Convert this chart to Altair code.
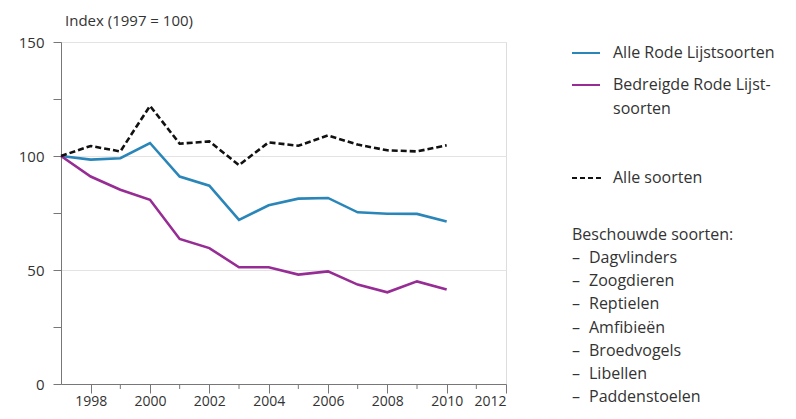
import altair as alt
import pandas as pd

years = list(range(1997, 2011))
alle_rode = [100, 98.4, 99, 105.7, 91, 87, 72, 78.4, 81.3, 81.6, 75.3, 74.7, 74.6, 71.3]
bedreigde = [100, 91, 85.2, 80.8, 63.6, 59.6, 51.2, 51.2, 48, 49.4, 43.6, 40.2, 45, 41.4]
alle_soorten = [100, 104.4, 102, 122, 105.4, 106.4, 96, 106, 104.5, 109, 105, 102.5, 102, 104.7]

series_names = ["Alle Rode Lijstsoorten", "Bedreigde Rode Lijstsoorten", "Alle soorten"]
series_colors = ["#2a86b8", "#962c94", "#111111"]
soorten = ["Dagvlinders", "Zoogdieren", "Reptielen", "Amfibieën", "Broedvogels", "Libellen", "Paddenstoelen"]
y_title = "Index (1997 = 100)"
legend_header = "Beschouwde soorten:"
major_years = [1998, 2000, 2002, 2004, 2006, 2008, 2010, 2012]
minor_years = [1999, 2001, 2003, 2005, 2007, 2009, 2011]

FONT = "Open Sans"
TXT = "#333333"
AXC = "#777777"

rows = []
for name, vals in zip(series_names, [alle_rode, bedreigde, alle_soorten]):
    for yr, v in zip(years, vals):
        rows.append({"jaar": yr, "index": v, "reeks": name})
df = pd.DataFrame(rows)

W, H = 445, 342

xenc = alt.X("jaar:Q",
             scale=alt.Scale(domain=[1997, 2012], nice=False, zero=False),
             axis=alt.Axis(values=major_years, title=None, grid=False, format="d",
                           tickSize=9, labelPadding=1, domainColor=AXC, tickColor=AXC,
                           labelColor=TXT, labelFont=FONT, labelFontSize=14))
yenc = alt.Y("index:Q",
             scale=alt.Scale(domain=[0, 150], nice=False),
             axis=alt.Axis(values=[0, 25, 50, 75, 100, 125, 150], title=None,
                           labelExpr="(datum.value % 50 == 0) ? format(datum.value, 'd') : ''",
                           grid=True, gridColor="#e3e3e3",
                           gridOpacity={"condition": {"test": "datum.value % 50 == 0", "value": 1}, "value": 0},
                           tickSize=8, labelPadding=9, domainColor=AXC, tickColor=AXC,
                           labelColor=TXT, labelFont=FONT, labelFontSize=15))

color = alt.Color("reeks:N", scale=alt.Scale(domain=series_names, range=series_colors), legend=None)

solid = alt.Chart(df).transform_filter(alt.datum.reeks != "Alle soorten").mark_line(strokeWidth=2.6).encode(
    x=xenc, y=yenc, color=color)
dashed = alt.Chart(df).transform_filter(alt.datum.reeks == "Alle soorten").mark_line(
    strokeWidth=2.6, strokeDash=[6, 3]).encode(x="jaar:Q", y="index:Q", color=color)
minor = alt.Chart(pd.DataFrame({"jaar": minor_years})).mark_rule(color=AXC, strokeWidth=1).encode(
    x="jaar:Q", y=alt.value(H), y2=alt.value(H + 5))

one = alt.Data(values=[{}])
layers = [solid, dashed, minor]

def txt(label, x, y, size=16, color=TXT):
    return alt.Chart(one).mark_text(align="left", baseline="middle", font=FONT, fontSize=size,
                                    color=color).encode(x=alt.value(x), y=alt.value(y), text=alt.value(label))

def rule(x1, x2, y, col, dash=None):
    kw = dict(strokeWidth=2, color=col)
    if dash:
        kw["strokeDash"] = dash
    return alt.Chart(one).mark_rule(**kw).encode(x=alt.value(x1), x2=alt.value(x2), y=alt.value(y))

ox, oy = 61, 42  # plot origin in page coords
layers.append(txt(y_title, 65 - ox, 21 - oy, size=15))

layers.append(rule(572 - ox, 600 - ox, 53 - oy, series_colors[0]))
layers.append(txt(series_names[0], 613 - ox, 53 - oy))
layers.append(rule(572 - ox, 600 - ox, 85 - oy, series_colors[1]))
layers.append(txt("Bedreigde Rode Lijst-", 613 - ox, 85 - oy))
layers.append(txt("soorten", 613 - ox, 109 - oy))
layers.append(rule(572 - ox, 603 - ox, 178 - oy, series_colors[2], dash=[5, 3]))
layers.append(txt(series_names[2], 613 - ox, 178 - oy))
layers.append(txt(legend_header, 572 - ox, 235 - oy))
for i, s in enumerate(soorten):
    yy = 258 + i * 23.2 - oy
    layers.append(txt("–", 572 - ox, yy))
    layers.append(txt(s, 589 - ox, yy))

TOTAL_W, TOTAL_H = 772, 401
chart = alt.layer(*layers).properties(
    width=W, height=H,
    padding={"left": ox - 8, "top": oy - 8, "right": TOTAL_W - (ox - 8) - W, "bottom": TOTAL_H - (oy - 8) - H},
    autosize=alt.AutoSizeParams(type="none"),
).configure_view(stroke=None).configure(background="white")

chart.save("out.html", embed_options={"renderer": "svg", "actions": False})
